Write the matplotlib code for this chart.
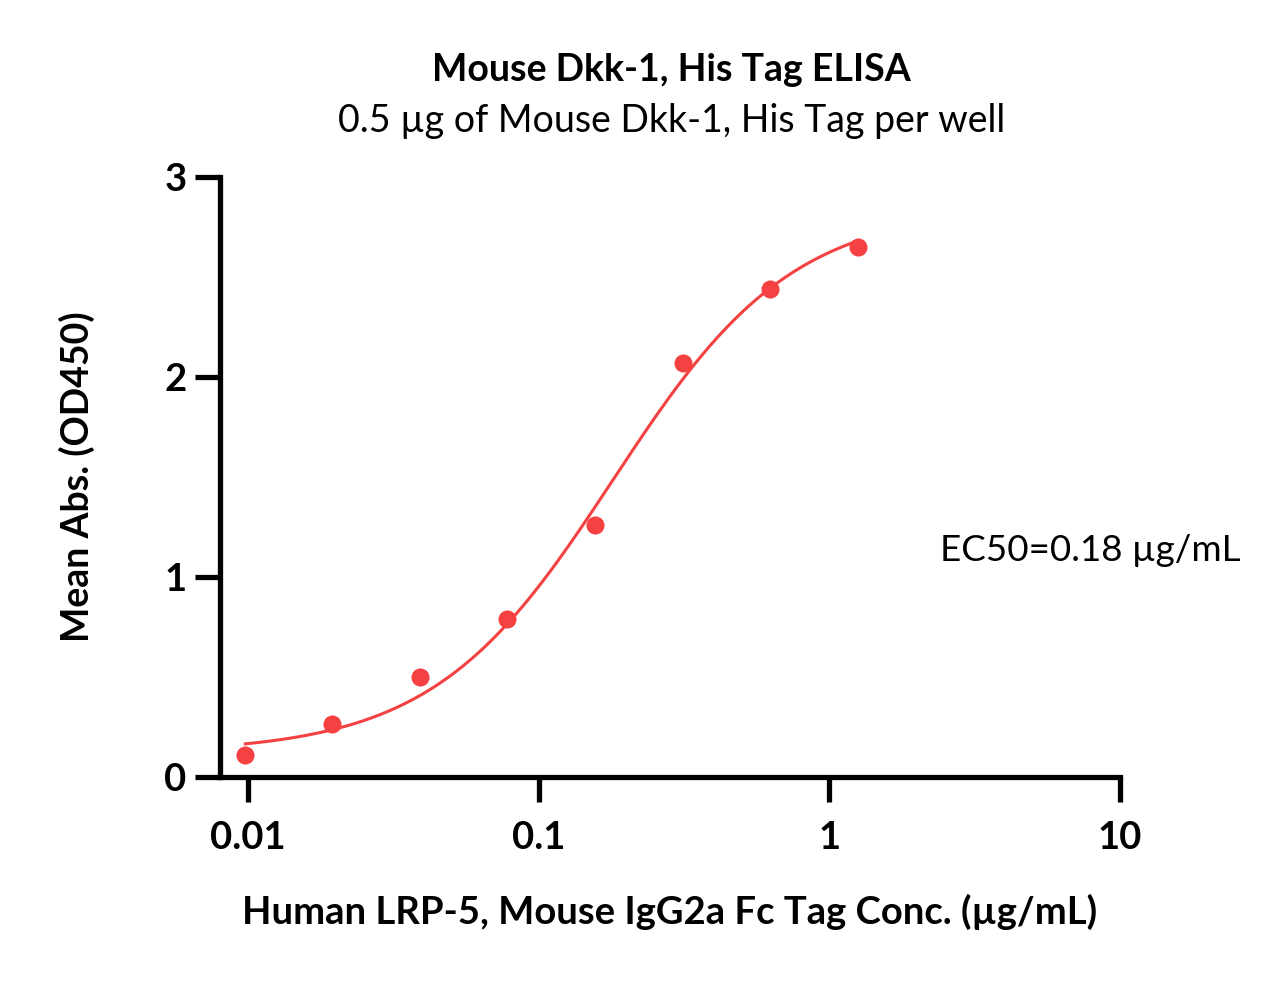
import numpy as np
import matplotlib
matplotlib.use("Agg")
import matplotlib.pyplot as plt
from matplotlib.ticker import FixedLocator, FixedFormatter, NullLocator

plt.rcParams['font.family'] = ['Lato', 'DejaVu Sans']

# data
conc = [0.00977, 0.0195, 0.039, 0.078, 0.156, 0.3125, 0.625, 1.25]
od450 = [0.11, 0.265, 0.50, 0.79, 1.26, 2.07, 2.44, 2.65]

# 4PL fit parameters (estimated from the drawn curve)
fit_bottom = 0.12
fit_top = 2.85
fit_ec50 = 0.18
fit_hill = 1.4

xticks = [0.01, 0.1, 1, 10]
xtick_labels = ['0.01', '0.1', '1', '10']
yticks = [0, 1, 2, 3]

red = '#F44141'

fig = plt.figure(figsize=(12.82, 9.81), dpi=100)
ax = fig.add_axes([0.1716, 0.2080, 0.8736 - 0.1716, 0.8196 - 0.2080])

xs = np.logspace(np.log10(conc[0]), np.log10(conc[-1]), 300)
ys = fit_bottom + (fit_top - fit_bottom) / (1 + (fit_ec50 / xs) ** fit_hill)
ax.plot(xs, ys, color=red, lw=2.2, zorder=2)
ax.plot(conc, od450, 'o', color=red, ms=13, mec='none', zorder=3)

ax.set_xscale('log')
ax.set_xlim(10 ** -2.097, 10)
ax.set_ylim(0, 3)
ax.xaxis.set_major_locator(FixedLocator(xticks))
ax.xaxis.set_major_formatter(FixedFormatter(xtick_labels))
ax.xaxis.set_minor_locator(NullLocator())
ax.set_yticks(yticks)

for s in ['top', 'right']:
    ax.spines[s].set_visible(False)
for s in ['left', 'bottom']:
    ax.spines[s].set_linewidth(3.8)
    ax.spines[s].set_capstyle('projecting')
ax.tick_params(axis='both', width=3.8, length=18, labelsize=27.5)
ax.tick_params(axis='x', pad=14)
ax.tick_params(axis='y', pad=6)
for lab in ax.get_xticklabels() + ax.get_yticklabels():
    lab.set_fontweight('bold')

ax.set_xlabel('Human LRP-5, Mouse IgG2a Fc Tag Conc. (µg/mL)', fontsize=27.5,
              fontweight='bold', labelpad=28)
ax.set_ylabel('Mean Abs. (OD450)', fontsize=27, fontweight='bold', labelpad=50)

fig.text(0.524, 0.929, 'Mouse Dkk-1, His Tag ELISA', ha='center', va='center',
         fontsize=27, fontweight='bold')
fig.text(0.524, 0.877, '0.5 µg of Mouse Dkk-1, His Tag per well', ha='center',
         va='center', fontsize=27)
ax.text(2.41, 1.13, 'EC50=0.18 µg/mL', fontsize=26.5, ha='left', va='center')

fig.savefig('out.png', dpi=100)
